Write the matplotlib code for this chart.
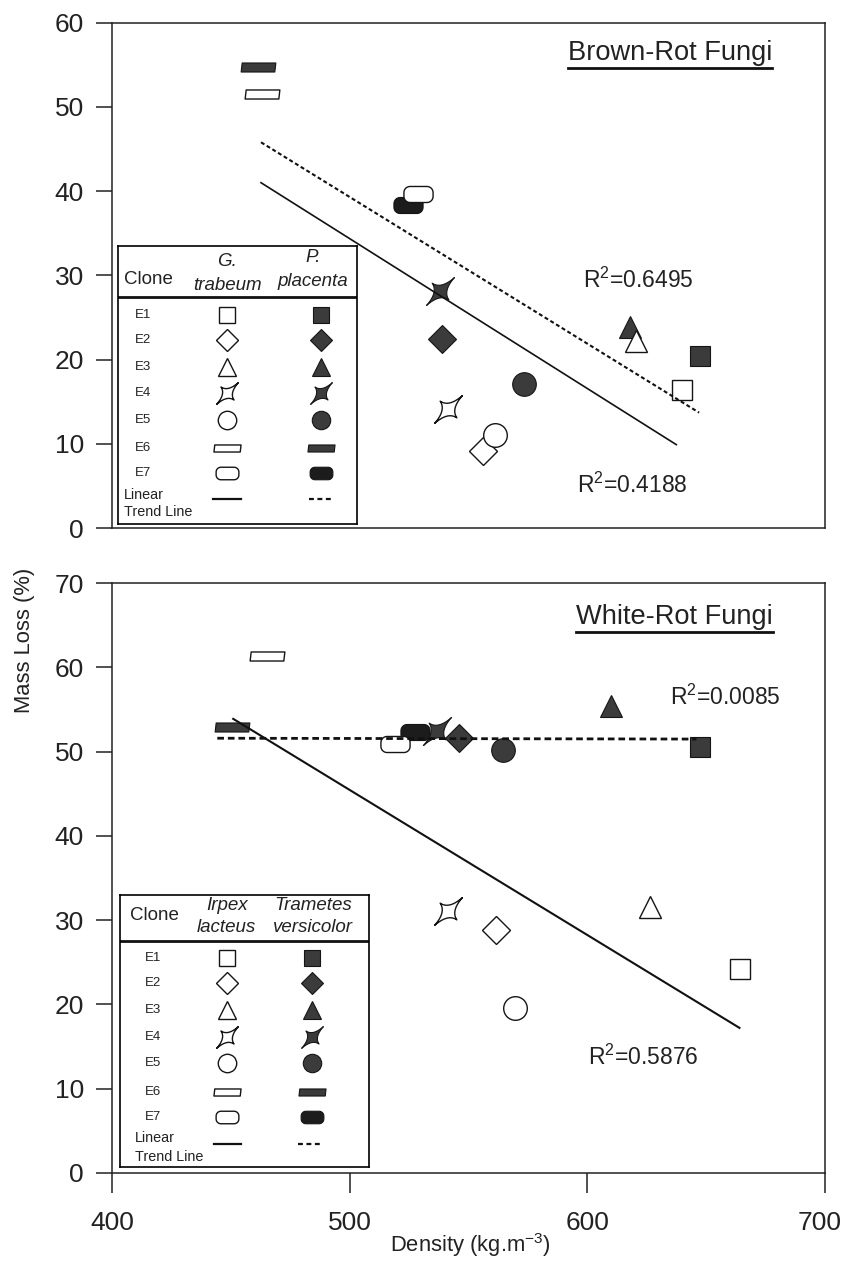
import matplotlib
matplotlib.use("Agg")
import matplotlib.pyplot as plt
import matplotlib.transforms as mtransforms
import numpy as np
from matplotlib.path import Path
from matplotlib.lines import Line2D

plt.rcParams['font.family'] = ['Liberation Sans', 'DejaVu Sans']
plt.rcParams['mathtext.fontset'] = 'custom'
plt.rcParams['mathtext.rm'] = 'Liberation Sans'
plt.rcParams['mathtext.default'] = 'regular'

W, H = 844, 1266

clones = ["E1", "E2", "E3", "E4", "E5", "E6", "E7"]

# brown-rot fungi (open = G. trabeum, filled = P. placenta)
brown_names = [("G.", "trabeum"), ("P.", "placenta")]
brown_open_x = [639.7, 556.0, 620.3, 541.4, 561.0, 462.9, 528.5]
brown_open_y = [16.4, 9.1, 22.2, 14.1, 11.0, 51.5, 39.7]
brown_fill_x = [647.2, 538.7, 617.8, 538.0, 573.5, 461.4, 524.5]
brown_fill_y = [20.4, 22.4, 23.9, 28.1, 17.1, 54.7, 38.4]
brown_solid_x, brown_solid_y = [462.6, 637.4], [41.0, 9.9]
brown_dash_x, brown_dash_y = [462.6, 647.0], [45.8, 13.7]
brown_r2 = [("R$^2$=0.6495", 598.0, 29.4), ("R$^2$=0.4188", 595.5, 5.1)]

# white-rot fungi (open = Irpex lacteus, filled = Trametes versicolor)
white_names = [("Irpex", "lacteus"), ("Trametes", "versicolor")]
white_open_x = [664.4, 561.7, 626.5, 541.1, 569.3, 465.0, 518.9]
white_open_y = [24.2, 28.8, 31.5, 31.1, 19.6, 61.4, 50.9]
white_fill_x = [647.5, 545.9, 610.1, 536.7, 564.5, 450.2, 527.3]
white_fill_y = [50.5, 51.6, 55.4, 52.4, 50.2, 52.9, 52.3]
white_solid_x, white_solid_y = [450.9, 664.0], [53.9, 17.2]
white_dash_x, white_dash_y = [444.2, 645.9], [51.6, 51.5]
white_r2 = [("R$^2$=0.0085", 634.6, 56.5), ("R$^2$=0.5876", 600.1, 13.7)]


def star_path():
    # four pointed star, long points NE/SW, concave sides
    tips = np.array([(1, 1), (-0.6, 0.6), (-1, -1), (0.6, -0.6)], float)
    pts = []
    for i in range(4):
        a, b = tips[i], tips[(i + 1) % 4]
        c = 0.1 * (a + b)
        for t in np.linspace(0, 1, 12)[:-1]:
            pts.append((1 - t) ** 2 * a + 2 * t * (1 - t) * c + t ** 2 * b)
    pts.append(pts[0])
    codes = [Path.MOVETO] + [Path.LINETO] * (len(pts) - 2) + [Path.CLOSEPOLY]
    return Path(pts, codes)


def para_path():
    return Path([(-1, -0.26), (0.94, -0.26), (1, 0.26), (-0.94, 0.26), (-1, -0.26)],
                [Path.MOVETO, Path.LINETO, Path.LINETO, Path.LINETO, Path.CLOSEPOLY])


def rrect_path(h=0.55, r=0.42):
    pts = []
    for cx, cy, a0 in [(1 - r, h - r, 0), (-(1 - r), h - r, 90),
                       (-(1 - r), -(h - r), 180), (1 - r, -(h - r), 270)]:
        for t in np.linspace(a0, a0 + 90, 9):
            pts.append((cx + r * np.cos(np.radians(t)), cy + r * np.sin(np.radians(t))))
    pts.append(pts[0])
    codes = [Path.MOVETO] + [Path.LINETO] * (len(pts) - 2) + [Path.CLOSEPOLY]
    return Path(pts, codes)


markers = ['s', 'D', '^', star_path(), 'o', para_path(), rrect_path()]
msizes = [14, 14, 16.5, 20, 17, 25, 21]
fill_col = '#3b3b3b'


def draw_points(ax, ox, oy, fx, fy, scale=1.0):
    for i in range(len(clones)):
        ms = msizes[i] * scale
        ax.plot(fx[i], fy[i], marker=markers[i], ms=ms, ls='none',
                mfc='#1c1c1c' if i == 6 else fill_col, mec='#151515', mew=0.8, zorder=3)
        ax.plot(ox[i], oy[i], marker=markers[i], ms=ms, ls='none',
                mfc='white', mec='#151515', mew=1.0, zorder=3)


def title_underline(fig, ax, txt, xr, yc):
    t = ax.text(xr, yc, txt, transform=ax.transAxes, ha='right', va='center',
                fontsize=19.6, color='#222222')
    fig.canvas.draw()
    bb = t.get_window_extent()
    inv = fig.transFigure.inverted()
    (x0, y0), (x1, _) = inv.transform([(bb.x0, bb.y0 - 2), (bb.x1, bb.y0 - 2)])
    fig.add_artist(Line2D([x0, x1], [y0, y0], transform=fig.transFigure,
                          color='#111111', lw=2.0))


def draw_legend(fig, box, names, hdr, rows, ex, ox, fx, lin, solid_seg, dash_seg, lsy):
    l, t, r, b = box
    lg = fig.add_axes([l / W, 1 - b / H, (r - l) / W, (b - t) / H])
    lg.set_xlim(l, r)
    lg.set_ylim(b, t)
    lg.set_xticks([]); lg.set_yticks([])
    for s in lg.spines.values():
        s.set_linewidth(1.2)
    lg.set_zorder(5)
    lg.text(hdr[0][0], hdr[0][1], "Clone", fontsize=13.5, ha='center', va='center', color='#222222')
    for (top, bot), (cx, y1, y2) in zip(names, hdr[1:]):
        lg.text(cx, y1, top, fontsize=13.5, style='italic', ha='center', va='center', color='#222222')
        lg.text(cx, y2, bot, fontsize=13.5, style='italic', ha='center', va='center', color='#222222')
    lg.axhline(lsy, color='#111111', lw=2.0)
    for i, c in enumerate(clones):
        lg.text(ex, rows[i], c, fontsize=9.5, ha='center', va='center', color='#222222')
    draw_points(lg, [ox] * 7, rows, [fx] * 7, rows, scale=0.78)
    lg.text(lin[0], lin[1], "Linear", fontsize=10.4, ha='left', va='center', color='#222222')
    lg.text(lin[0], lin[2], "Trend Line", fontsize=10.4, ha='left', va='center', color='#222222')
    lg.plot(solid_seg[0], [solid_seg[1]] * 2, color='#111111', lw=1.6)
    lg.plot(dash_seg[0], [dash_seg[1]] * 2, color='#111111', lw=1.6, ls=(0, (2.2, 1.6)))


fig = plt.figure(figsize=(W / 100, H / 100), dpi=100)
ax1 = fig.add_axes([112.3 / W, 1 - 528 / H, (825 - 112.3) / W, (528 - 22.7) / H])
ax2 = fig.add_axes([112.3 / W, 1 - 1172.7 / H, (825 - 112.3) / W, (1172.7 - 583.3) / H])

for ax, ymax in [(ax1, 60), (ax2, 70)]:
    ax.set_xlim(400, 700)
    ax.set_ylim(0, ymax)
    ax.set_yticks(range(0, ymax + 1, 10))
    ax.tick_params(axis='y', direction='out', length=11.5, width=1.1, pad=9,
                   labelsize=19, colors='#222222')
    for s in ax.spines.values():
        s.set_linewidth(1.1)
        s.set_color('#222222')

ax1.tick_params(axis='x', bottom=False, labelbottom=False)
ax2.set_xticks([400, 500, 600, 700])
ax2.tick_params(axis='x', direction='out', length=14.5, width=1.1, pad=13,
                labelsize=19, colors='#222222')
# keep the last x label inside the figure
last = ax2.get_xticklabels()[-1]
last.set_transform(last.get_transform() +
                   mtransforms.ScaledTranslation(-5 / 100, 0, fig.dpi_scale_trans))

# brown-rot panel
draw_points(ax1, brown_open_x, brown_open_y, brown_fill_x, brown_fill_y)
ax1.plot(brown_solid_x, brown_solid_y, color='#111111', lw=1.2, zorder=4)
ax1.plot(brown_dash_x, brown_dash_y, color='#111111', lw=1.5, ls=(0, (1.9, 1.3)), zorder=4)
for txt, x, y in brown_r2:
    ax1.text(x, y, txt, fontsize=16.5, ha='left', va='center', color='#222222')

# white-rot panel
draw_points(ax2, white_open_x, white_open_y, white_fill_x, white_fill_y)
ax2.plot(white_solid_x, white_solid_y, color='#111111', lw=1.5, zorder=4)
ax2.plot(white_dash_x, white_dash_y, color='#111111', lw=2.0, ls=(0, (2.4, 1.4)), zorder=4)
for txt, x, y in white_r2:
    ax2.text(x, y, txt, fontsize=16.5, ha='left', va='center', color='#222222')

fig.text(25 / W, 1 - 640 / H, "Mass Loss (%)", rotation=90, ha='center', va='center',
         fontsize=15.8, color='#222222')
fig.text(470 / W, 1 - 1245 / H, "Density (kg.m$^{-3}$)", ha='center', va='center',
         fontsize=15.8, color='#222222')

draw_legend(fig, (118, 246, 357, 524), brown_names,
            [(148, 279), (227, 261.7, 285), (313, 258, 281.7)],
            [315, 340, 366.7, 393.3, 420, 448.3, 473.3], 143, 227, 321,
            (124, 495, 511.7), ((213, 241), 499), ((309, 333), 499), 296.7)
draw_legend(fig, (120, 895, 369, 1167), white_names,
            [(154, 915), (226.7, 906, 928), (313, 906, 928)],
            [958.3, 983.3, 1010, 1036.7, 1063.3, 1091.7, 1116.7], 153, 226.7, 311.7,
            (135, 1138.3, 1156.7), ((214, 241), 1144), ((298, 323), 1144), 940.7)

title_underline(fig, ax1, "Brown-Rot Fungi", 0.9256, 0.940)
title_underline(fig, ax2, "White-Rot Fungi", 0.927, 0.9428)

fig.savefig("out.png", dpi=100)
